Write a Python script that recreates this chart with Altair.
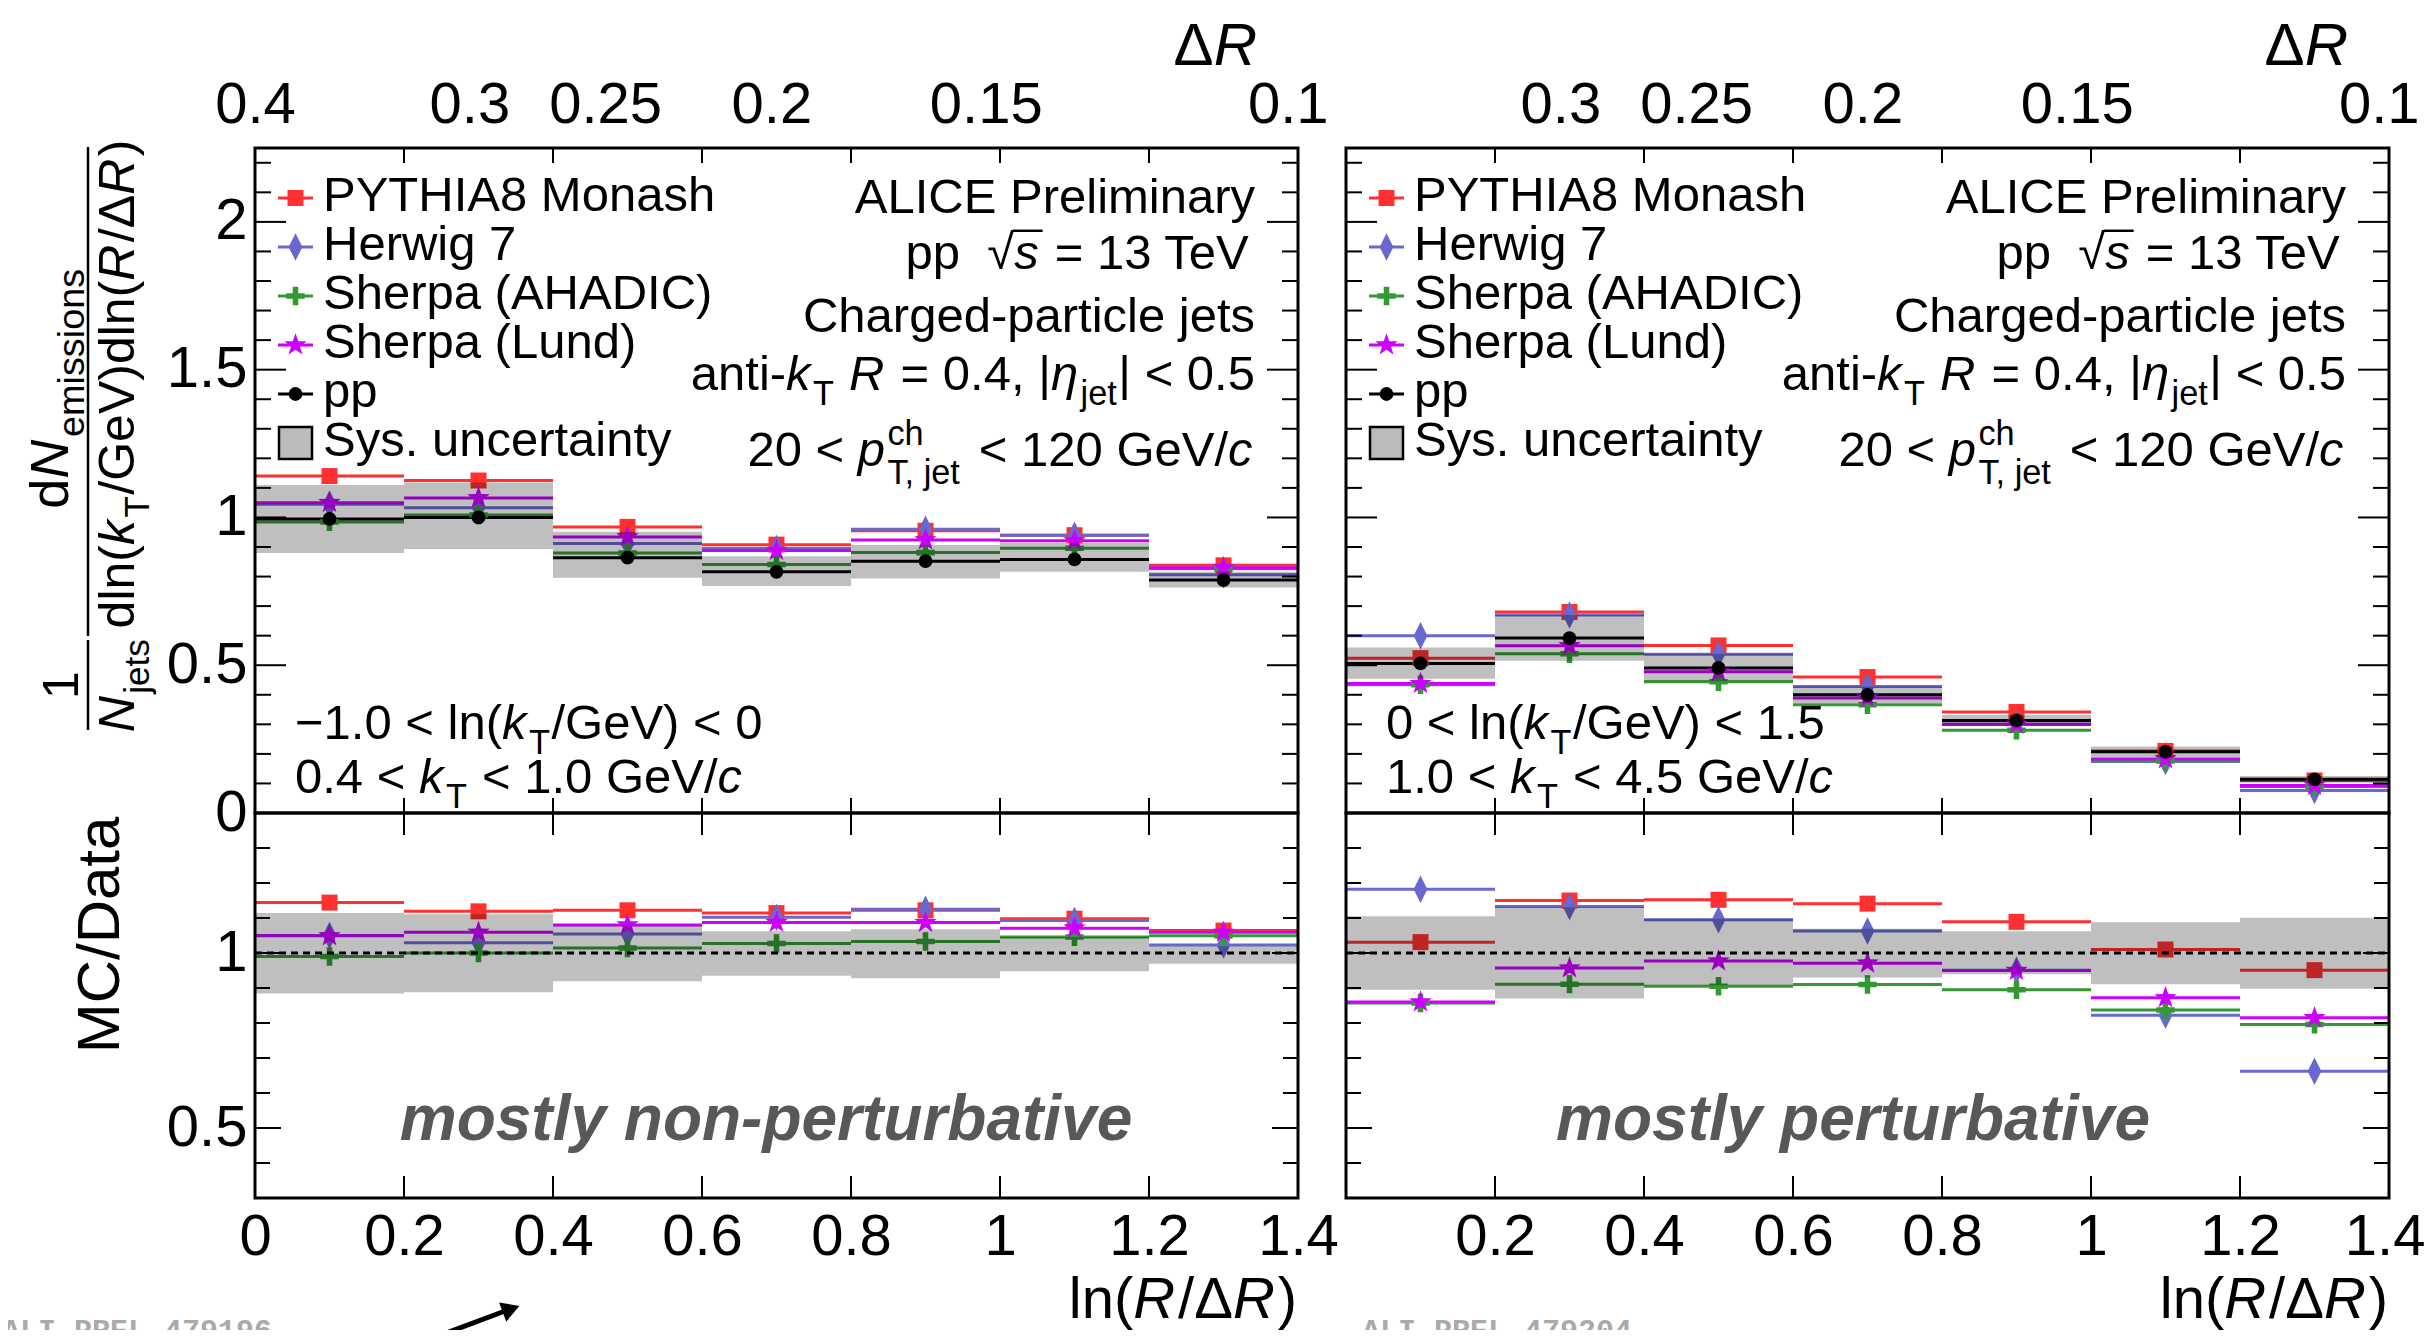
import math
import altair as alt
import pandas as pd

# ---------------------------------------------------------------- data
BIN_LO = [0.0, 0.2, 0.4, 0.6, 0.8, 1.0, 1.2]
BIN_HI = [0.2, 0.4, 0.6, 0.8, 1.0, 1.2, 1.4]
BIN_MID = [0.1, 0.3, 0.5, 0.7, 0.9, 1.1, 1.3]

SERIES = ["PYTHIA8 Monash", "Herwig 7", "Sherpa (AHADIC)", "Sherpa (Lund)", "pp"]
COLORS = ["#ff3030", "#6868cf", "#339933", "#cc00ff", "#000000"]

# left column : -1.0 < ln(kT/GeV) < 0   (mostly non-perturbative)
NP_PYTHIA = [1.140, 1.125, 0.968, 0.908, 0.955, 0.940, 0.838]
NP_HERWIG = [1.045, 1.033, 0.912, 0.895, 0.960, 0.940, 0.806]
NP_AHADIC = [0.985, 1.008, 0.880, 0.841, 0.881, 0.896, 0.826]
NP_LUND = [1.050, 1.066, 0.934, 0.888, 0.924, 0.921, 0.830]
NP_PP = [0.995, 1.000, 0.864, 0.816, 0.852, 0.858, 0.788]
NP_SYS_LO = [0.880, 0.893, 0.796, 0.768, 0.793, 0.816, 0.763]
NP_SYS_HI = [1.110, 1.118, 0.952, 0.869, 0.907, 0.914, 0.816]
NP_R_PYTHIA = [1.144, 1.119, 1.122, 1.114, 1.122, 1.098, 1.064]
NP_R_HERWIG = [1.050, 1.029, 1.054, 1.102, 1.125, 1.093, 1.023]
NP_R_AHADIC = [0.990, 1.000, 1.014, 1.027, 1.033, 1.046, 1.049]
NP_R_LUND = [1.049, 1.059, 1.080, 1.087, 1.087, 1.071, 1.059]
NP_R_SYS_LO = [0.884, 0.888, 0.919, 0.935, 0.928, 0.948, 0.969]
NP_R_SYS_HI = [1.114, 1.111, 1.078, 1.062, 1.068, 1.046, 1.019]

# right column : 0 < ln(kT/GeV) < 1.5   (mostly perturbative)
P_PYTHIA = [0.524, 0.680, 0.567, 0.460, 0.342, 0.210, 0.110]
P_HERWIG = [0.600, 0.670, 0.537, 0.428, 0.300, 0.174, 0.076]
P_AHADIC = [0.434, 0.539, 0.444, 0.366, 0.280, 0.176, 0.090]
P_LUND = [0.438, 0.566, 0.478, 0.389, 0.300, 0.183, 0.093]
P_PP = [0.506, 0.592, 0.491, 0.400, 0.313, 0.207, 0.114]
P_SYS_LO = [0.454, 0.515, 0.446, 0.372, 0.294, 0.189, 0.102]
P_SYS_HI = [0.560, 0.670, 0.539, 0.428, 0.332, 0.225, 0.125]
P_R_PYTHIA = [1.031, 1.150, 1.152, 1.141, 1.089, 1.010, 0.951]
P_R_HERWIG = [1.182, 1.133, 1.095, 1.063, 0.951, 0.822, 0.662]
P_R_AHADIC = [0.857, 0.911, 0.905, 0.910, 0.895, 0.837, 0.796]
P_R_LUND = [0.860, 0.957, 0.977, 0.971, 0.950, 0.872, 0.815]
P_R_SYS_LO = [0.895, 0.870, 0.908, 0.930, 0.939, 0.911, 0.898]
P_R_SYS_HI = [1.105, 1.131, 1.098, 1.069, 1.062, 1.088, 1.101]

REF_LINE = [1.0]

# axis ticks / labels
TOP_Y_MAJOR = [0.0, 0.5, 1.0, 1.5, 2.0]
TOP_Y_MINOR = [0.1, 0.2, 0.3, 0.4, 0.6, 0.7, 0.8, 0.9, 1.1, 1.2, 1.3, 1.4,
               1.6, 1.7, 1.8, 1.9, 2.1, 2.2]
BOT_Y_MAJOR = [0.5, 1.0]
BOT_Y_MINOR = [0.4, 0.6, 0.7, 0.8, 0.9, 1.1, 1.2, 1.3]
X_TICKS = [0.2, 0.4, 0.6, 0.8, 1.0, 1.2]
X_LABELS = {"L": [0, 0.2, 0.4, 0.6, 0.8, 1.0, 1.2, 1.4],
            "R": [0.2, 0.4, 0.6, 0.8, 1.0, 1.2, 1.4]}
DR_LABELS = {"L": [0.4, 0.3, 0.25, 0.2, 0.15, 0.1],
             "R": [0.3, 0.25, 0.2, 0.15, 0.1]}
JET_R = 0.4

# ---------------------------------------------------------------- layout / style
FONT = "Liberation Sans"
W_PLOT, H_PLOT = 2134, 1050
PANEL_X = {"L": (0, 1043), "R": (1091, 2134)}
PART_Y = {"top": (0, 665), "bot": (665, 1050)}
TOP_DOMAIN = [0, 2.25]
BOT_DOMAIN = [0.3, 1.4]
X_DOMAIN = [0, 1.4]

STAR = ("M0,-1L0.235,-0.324L0.951,-0.309L0.38,0.124L0.588,0.809L0,0.4"
        "L-0.588,0.809L-0.38,0.124L-0.951,-0.309L-0.235,-0.324Z")
DIAMOND = "M0,-1L0.5,0L0,1L-0.5,0Z"
CROSS = ("M-1,-0.3L-0.3,-0.3L-0.3,-1L0.3,-1L0.3,-0.3L1,-0.3L1,0.3L0.3,0.3"
         "L0.3,1L-0.3,1L-0.3,0.3L-1,0.3Z")
SHAPES = ["square", DIAMOND, CROSS, STAR, "circle"]
SIZES = [256, 760, 340, 560, 190]

COLOR_SCALE = alt.Scale(domain=SERIES, range=COLORS)
SHAPE_SCALE = alt.Scale(domain=SERIES, range=SHAPES)
SIZE_SCALE = alt.Scale(type="ordinal", domain=SERIES, range=SIZES)


def xscale(p):
    a, b = PANEL_X[p]
    return alt.Scale(domain=X_DOMAIN, range=[a, b], nice=False, zero=False)


def yscale(part):
    a, b = PART_Y[part]
    dom = TOP_DOMAIN if part == "top" else BOT_DOMAIN
    return alt.Scale(domain=dom, range=[b, a], nice=False, zero=False)


def one_row():
    return pd.DataFrame({"k": [0]})


# ---------------------------------------------------------------- data layers
def series_frame(named):
    rows = []
    for name, vals in named:
        for lo, hi, mid, v in zip(BIN_LO, BIN_HI, BIN_MID, vals):
            rows.append({"series": name, "lo": lo, "hi": hi, "mid": mid, "v": v})
    return pd.DataFrame(rows)


def data_layers(p, part, named, sys_lo, sys_hi):
    df = series_frame(named)
    xs, ys = xscale(p), yscale(part)
    rules = alt.Chart(df).mark_rule(strokeWidth=3).encode(
        x=alt.X("lo:Q", scale=xs, axis=None), x2="hi:Q",
        y=alt.Y("v:Q", scale=ys, axis=None),
        color=alt.Color("series:N", scale=COLOR_SCALE, legend=None))
    pts = alt.Chart(df).mark_point(filled=True, opacity=1, strokeWidth=0).encode(
        x=alt.X("mid:Q", scale=xs, axis=None),
        y=alt.Y("v:Q", scale=ys, axis=None),
        color=alt.Color("series:N", scale=COLOR_SCALE, legend=None),
        shape=alt.Shape("series:N", scale=SHAPE_SCALE, legend=None),
        size=alt.Size("series:N", scale=SIZE_SCALE, legend=None))
    sdf = pd.DataFrame({"lo": BIN_LO, "hi": BIN_HI, "slo": sys_lo, "shi": sys_hi})
    box = alt.Chart(sdf).mark_rect(color="black", opacity=0.25).encode(
        x=alt.X("lo:Q", scale=xs, axis=None), x2="hi:Q",
        y=alt.Y("slo:Q", scale=ys, axis=None), y2="shi:Q")
    return [rules, pts, box]


layers = []
layers += data_layers("L", "top", [(SERIES[0], NP_PYTHIA), (SERIES[1], NP_HERWIG),
                                   (SERIES[2], NP_AHADIC), (SERIES[3], NP_LUND),
                                   (SERIES[4], NP_PP)], NP_SYS_LO, NP_SYS_HI)
layers += data_layers("L", "bot", [(SERIES[0], NP_R_PYTHIA), (SERIES[1], NP_R_HERWIG),
                                   (SERIES[2], NP_R_AHADIC), (SERIES[3], NP_R_LUND)],
                      NP_R_SYS_LO, NP_R_SYS_HI)
layers += data_layers("R", "top", [(SERIES[0], P_PYTHIA), (SERIES[1], P_HERWIG),
                                   (SERIES[2], P_AHADIC), (SERIES[3], P_LUND),
                                   (SERIES[4], P_PP)], P_SYS_LO, P_SYS_HI)
layers += data_layers("R", "bot", [(SERIES[0], P_R_PYTHIA), (SERIES[1], P_R_HERWIG),
                                   (SERIES[2], P_R_AHADIC), (SERIES[3], P_R_LUND)],
                      P_R_SYS_LO, P_R_SYS_HI)

# dotted reference line at 1 in ratio panels
for p in ("L", "R"):
    x0, x1 = PANEL_X[p]
    layers.append(alt.Chart(pd.DataFrame({"v": REF_LINE})).mark_rule(
        color="black", strokeWidth=3, strokeDash=[7, 5]).encode(
        y=alt.Y("v:Q", scale=yscale("bot"), axis=None),
        x=alt.value(x0), x2=alt.value(x1)))


# ---------------------------------------------------------------- ticks + axes
def tick_layers(p, part):
    x0, x1 = PANEL_X[p]
    y0, y1 = PART_Y[part]
    xs, ys = xscale(p), yscale(part)
    if part == "top":
        ymaj, ymin, lmaj, lmin, lx = TOP_Y_MAJOR, TOP_Y_MINOR, 31, 16, 15
    else:
        ymaj, ymin, lmaj, lmin, lx = BOT_Y_MAJOR, BOT_Y_MINOR, 26, 15, 22
    out = []
    for vals, ln, major in ((ymaj, lmaj, True), (ymin, lmin, False)):
        d = pd.DataFrame({"v": vals})
        if major and p == "L":
            labels = TOP_Y_MAJOR if part == "top" else BOT_Y_MAJOR
            ax = alt.Axis(orient="left", values=labels, format="~g",
                          labelPadding=8, title=None)
        else:
            ax = None
        out.append(alt.Chart(d).mark_rule(color="black", strokeWidth=2).encode(
            y=alt.Y("v:Q", scale=ys, axis=ax),
            x=alt.value(x0), x2=alt.value(x0 + ln)))
        out.append(alt.Chart(d).mark_rule(color="black", strokeWidth=2).encode(
            y=alt.Y("v:Q", scale=ys, axis=None),
            x=alt.value(x1 - ln), x2=alt.value(x1)))
    d = pd.DataFrame({"v": X_TICKS})
    if part == "top":
        top_ax = alt.Axis(orient="top",
                          values=[math.log(JET_R / r) for r in DR_LABELS[p]],
                          labelExpr="format(0.4/exp(datum.value), '~g')",
                          labelBaseline="alphabetic", labelPadding=26, title=None)
        bot_ax = None
    else:
        top_ax = None
        if p == "R":
            bot_ax = alt.Axis(orient="bottom", values=X_LABELS[p], format="~g",
                              labelBaseline="alphabetic", labelPadding=56, title=None,
                              labelFlush=1, labelFlushOffset=36)
        else:
            bot_ax = alt.Axis(orient="bottom", values=X_LABELS[p], format="~g",
                              labelBaseline="alphabetic", labelPadding=56, title=None)
    out.append(alt.Chart(d).mark_rule(color="black", strokeWidth=2).encode(
        x=alt.X("v:Q", scale=xs, axis=top_ax),
        y=alt.value(y0), y2=alt.value(y0 + lx)))
    out.append(alt.Chart(d).mark_rule(color="black", strokeWidth=2).encode(
        x=alt.X("v:Q", scale=xs, axis=bot_ax),
        y=alt.value(y1 - lx), y2=alt.value(y1)))
    return out


for p in ("L", "R"):
    for part in ("top", "bot"):
        layers += tick_layers(p, part)

# frames
for p in ("L", "R"):
    for part in ("top", "bot"):
        x0, x1 = PANEL_X[p]
        y0, y1 = PART_Y[part]
        layers.append(alt.Chart(one_row()).mark_rect(
            fillOpacity=0, stroke="black", strokeWidth=3).encode(
            x=alt.value(x0), x2=alt.value(x1), y=alt.value(y0), y2=alt.value(y1)))

# ---------------------------------------------------------------- text helpers
W = {ch: 556 for ch in "0123456789"}
W.update(dict(zip("ABCDEFGHIJKLMNOPQRSTUVWXYZ",
                  [667, 667, 722, 722, 667, 611, 778, 722, 278, 500, 667, 556, 833,
                   722, 778, 667, 778, 722, 667, 611, 722, 667, 944, 667, 667, 611])))
W.update(dict(zip("abcdefghijklmnopqrstuvwxyz",
                  [556, 556, 500, 556, 556, 278, 556, 556, 222, 222, 500, 222, 833,
                   556, 556, 556, 556, 333, 500, 278, 556, 500, 722, 500, 500, 500])))
W.update({" ": 278, "!": 278, "(": 333, ")": 333, ",": 278, "-": 333,
          ".": 278, "/": 278, ":": 278, "<": 584, "=": 584, ">": 584, "|": 260,
          "\u2212": 584, "\u221a": 549, "\u03b7": 556, "\u0394": 668})
SUBSCALE = 0.7


def tw(s, size):
    return sum(W.get(ch, 556) for ch in s) * size / 1000.0


def add_piece(pieces, cx, dy, text, size, italic):
    """place a piece; leading/trailing blanks are turned into offsets (SVG trims them)"""
    lead = len(text) - len(text.lstrip(" "))
    vis = text.strip(" ")
    if vis:
        pieces.append((cx + tw(" " * lead, size), dy, vis, size, italic))
    return tw(text, size)


def seg_layout(segs, size):
    pieces, lines, cx = [], [], 0.0
    sub = size * SUBSCALE
    for text, kind in segs:
        if kind in ("n", "i"):
            cx += add_piece(pieces, cx, 0.0, text, size, kind == "i")
            cx += 0.05 * size if kind == "i" else 0.0
        elif kind == "io":
            w = add_piece(pieces, cx, 0.0, text, size, True)
            lines.append((cx - 0.03 * size, cx + w + 0.08 * size, -0.78 * size))
            cx += w + 0.05 * size
        elif kind == "sub":
            cx += add_piece(pieces, cx, 0.30 * size, text, sub, False) + 0.03 * size
        elif kind == "ss":
            sup_t, sub_t = text
            w1 = add_piece(pieces, cx, -0.42 * size, sup_t, sub, False)
            w2 = add_piece(pieces, cx, 0.36 * size, sub_t, sub, False)
            cx += max(w1, w2) + 0.03 * size
    return pieces, lines, cx


TEXT_ROWS = []
LINE_ROWS = []


def place(segs, size, x, y, anchor="left"):
    pieces, lines, total = seg_layout(segs, size)
    start = x if anchor == "left" else (x - total if anchor == "right" else x - total / 2)
    for dx, dy, t, fs, it in pieces:
        TEXT_ROWS.append(dict(x=start + dx, y=y + dy, text=t, size=fs, italic=it, rot=False))
    for a, b, dy in lines:
        LINE_ROWS.append(dict(x=start + a, x2=start + b, y=y + dy, y2=y + dy))


def place_rot(segs, size, bx, cy):
    pieces, _, total = seg_layout(segs, size)
    start = cy + total / 2
    for dx, dy, t, fs, it in pieces:
        TEXT_ROWS.append(dict(x=bx + dy, y=start - dx, text=t, size=fs, italic=it, rot=True))


TS = 49
KT_LINES = {"L": ([("\u22121.0 < ln(", "n"), ("k", "i"), ("T", "sub"), ("/GeV) < 0", "n")],
                  [("0.4 < ", "n"), ("k", "i"), ("T", "sub"), (" < 1.0 GeV/", "n"), ("c", "i")]),
            "R": ([("0 < ln(", "n"), ("k", "i"), ("T", "sub"), ("/GeV) < 1.5", "n")],
                  [("1.0 < ", "n"), ("k", "i"), ("T", "sub"), (" < 4.5 GeV/", "n"), ("c", "i")])}

leg_rows, box_rows = [], []
for p in ("L", "R"):
    X0 = PANEL_X[p][0]
    # legend
    for i, name in enumerate(SERIES):
        yc = 50 + 49 * i
        leg_rows.append(dict(series=name, x0=X0 + 23, x1=X0 + 58, xm=X0 + 40.5, y=yc))
        place([(name, "n")], TS, X0 + 68, yc + 13)
    ysys = 50 + 49 * 5
    box_rows.append(dict(x0=X0 + 24, x1=X0 + 57, y0=ysys - 16, y1=ysys + 16))
    place([("Sys. uncertainty", "n")], TS, X0 + 68, ysys + 13)
    # right block
    RX = X0 + 1000
    place([("ALICE Preliminary", "n")], TS, RX, 65, "right")
    place([("pp  ", "n"), ("\u221a", "n"), ("s", "io"), (" = 13 TeV", "n")], TS, RX, 121, "right")
    place([("Charged-particle jets", "n")], TS, RX, 184, "right")
    place([("anti-", "n"), ("k", "i"), ("T", "sub"), (" ", "n"), ("R", "i"),
           (" = 0.4, |", "n"), ("\u03b7", "i"), ("jet", "sub"), ("| < 0.5", "n")], TS, RX, 242, "right")
    place([("20 < ", "n"), ("p", "i"), (("ch", "T, jet"), "ss"), (" < 120 GeV/", "n"),
           ("c", "i")], TS, RX, 318, "right")
    # kT ranges
    l1, l2 = KT_LINES[p]
    place(l1, TS, X0 + 40, 591)
    place(l2, TS, X0 + 40, 645)
    # axis titles
    place([("\u0394", "n"), ("R", "i")], 60, X0 + 1005, -83, "right")
    place([("ln(", "n"), ("R", "i"), ("/\u0394", "n"), ("R", "i"), (")", "n")], 58,
          X0 + 1042, 1170, "right")

# y titles (rotated)
place_rot([("d", "n"), ("N", "i"), ("emissions", "sub")], 54, -187, 240)
place_rot([("dln(", "n"), ("k", "i"), ("T", "sub"), ("/GeV)dln(", "n"), ("R", "i"),
           ("/\u0394", "n"), ("R", "i"), (")", "n")], 50, -121, 236)
place_rot([("1", "n")], 50, -177, 537)
place_rot([("N", "i"), ("jets", "sub")], 50, -121, 537)
place_rot([("MC/Data", "n")], 60, -136, 787)
LINE_ROWS.append(dict(x=-167, x2=-167, y=-1, y2=488))
LINE_ROWS.append(dict(x=-167, x2=-167, y=492, y2=582))

# legend layers
LEG = pd.DataFrame(leg_rows)
layers.append(alt.Chart(LEG).mark_rule(strokeWidth=3).encode(
    x=alt.X("x0:Q", scale=None), x2=alt.X2("x1:Q"), y=alt.Y("y:Q", scale=None),
    color=alt.Color("series:N", scale=COLOR_SCALE, legend=None)))
layers.append(alt.Chart(LEG).mark_point(filled=True, opacity=1, strokeWidth=0).encode(
    x=alt.X("xm:Q", scale=None), y=alt.Y("y:Q", scale=None),
    color=alt.Color("series:N", scale=COLOR_SCALE, legend=None),
    shape=alt.Shape("series:N", scale=SHAPE_SCALE, legend=None),
    size=alt.Size("series:N", scale=SIZE_SCALE, legend=None)))
layers.append(alt.Chart(pd.DataFrame(box_rows)).mark_rect(
    fill="#bbbbbb", stroke="black", strokeWidth=2.5).encode(
    x=alt.X("x0:Q", scale=None), x2=alt.X2("x1:Q"),
    y=alt.Y("y0:Q", scale=None), y2=alt.Y2("y1:Q")))

# text layers
TXT = pd.DataFrame(TEXT_ROWS)
for it in (False, True):
    for rot in (False, True):
        sub = TXT[(TXT["italic"] == it) & (TXT["rot"] == rot)][["x", "y", "text", "size"]]
        if len(sub) == 0:
            continue
        layers.append(alt.Chart(sub).mark_text(
            align="left", baseline="alphabetic", font=FONT, color="black",
            fontStyle="italic" if it else "normal", angle=270 if rot else 0).encode(
            x=alt.X("x:Q", scale=None), y=alt.Y("y:Q", scale=None),
            text="text:N", size=alt.Size("size:Q", scale=None)))

layers.append(alt.Chart(pd.DataFrame(LINE_ROWS)).mark_rule(color="black", strokeWidth=2.5).encode(
    x=alt.X("x:Q", scale=None), x2=alt.X2("x2:Q"),
    y=alt.Y("y:Q", scale=None), y2=alt.Y2("y2:Q")))

# region captions
CAP = pd.DataFrame({"x": [511, 1598], "y": [992, 992],
                    "text": ["mostly non-perturbative", "mostly perturbative"]})
layers.append(alt.Chart(CAP).mark_text(
    align="center", baseline="alphabetic", font=FONT, fontSize=64, fontStyle="italic",
    fontWeight="bold", color="#585858").encode(
    x=alt.X("x:Q", scale=None), y=alt.Y("y:Q", scale=None), text="text:N"))

# watermarks + arrow
WM = pd.DataFrame({"x": [-253, 1107], "y": [1192, 1192],
                   "text": ["ALI-PREL-479196", "ALI-PREL-479204"]})
layers.append(alt.Chart(WM).mark_text(
    align="left", baseline="alphabetic", font="Liberation Mono", fontSize=30,
    fontWeight="bold", color="#aaaaaa").encode(
    x=alt.X("x:Q", scale=None), y=alt.Y("y:Q", scale=None), text="text:N"))
layers.append(alt.Chart(one_row()).mark_rule(color="black", strokeWidth=5).encode(
    x=alt.value(178), x2=alt.value(250), y=alt.value(1190), y2=alt.value(1163)))
layers.append(alt.Chart(one_row()).mark_point(
    shape="triangle-up", angle=69.5, size=420, filled=True, color="black", opacity=1).encode(
    x=alt.value(256), y=alt.value(1161)))

chart = alt.layer(*layers).resolve_scale(x="independent", y="independent").properties(
    width=W_PLOT, height=H_PLOT,
    padding={"left": 247, "top": 140, "right": 36, "bottom": 132},
    autosize=alt.AutoSizeParams(type="none"),
    background="white",
).configure_view(strokeWidth=0).configure_axis(
    labelFont=FONT, labelFontSize=58, labelColor="black", domain=False, ticks=False,
    tickSize=0, grid=False, labelFlush=False, labelOverlap=False)

chart.save("out.html", embed_options={"renderer": "svg", "actions": False})
